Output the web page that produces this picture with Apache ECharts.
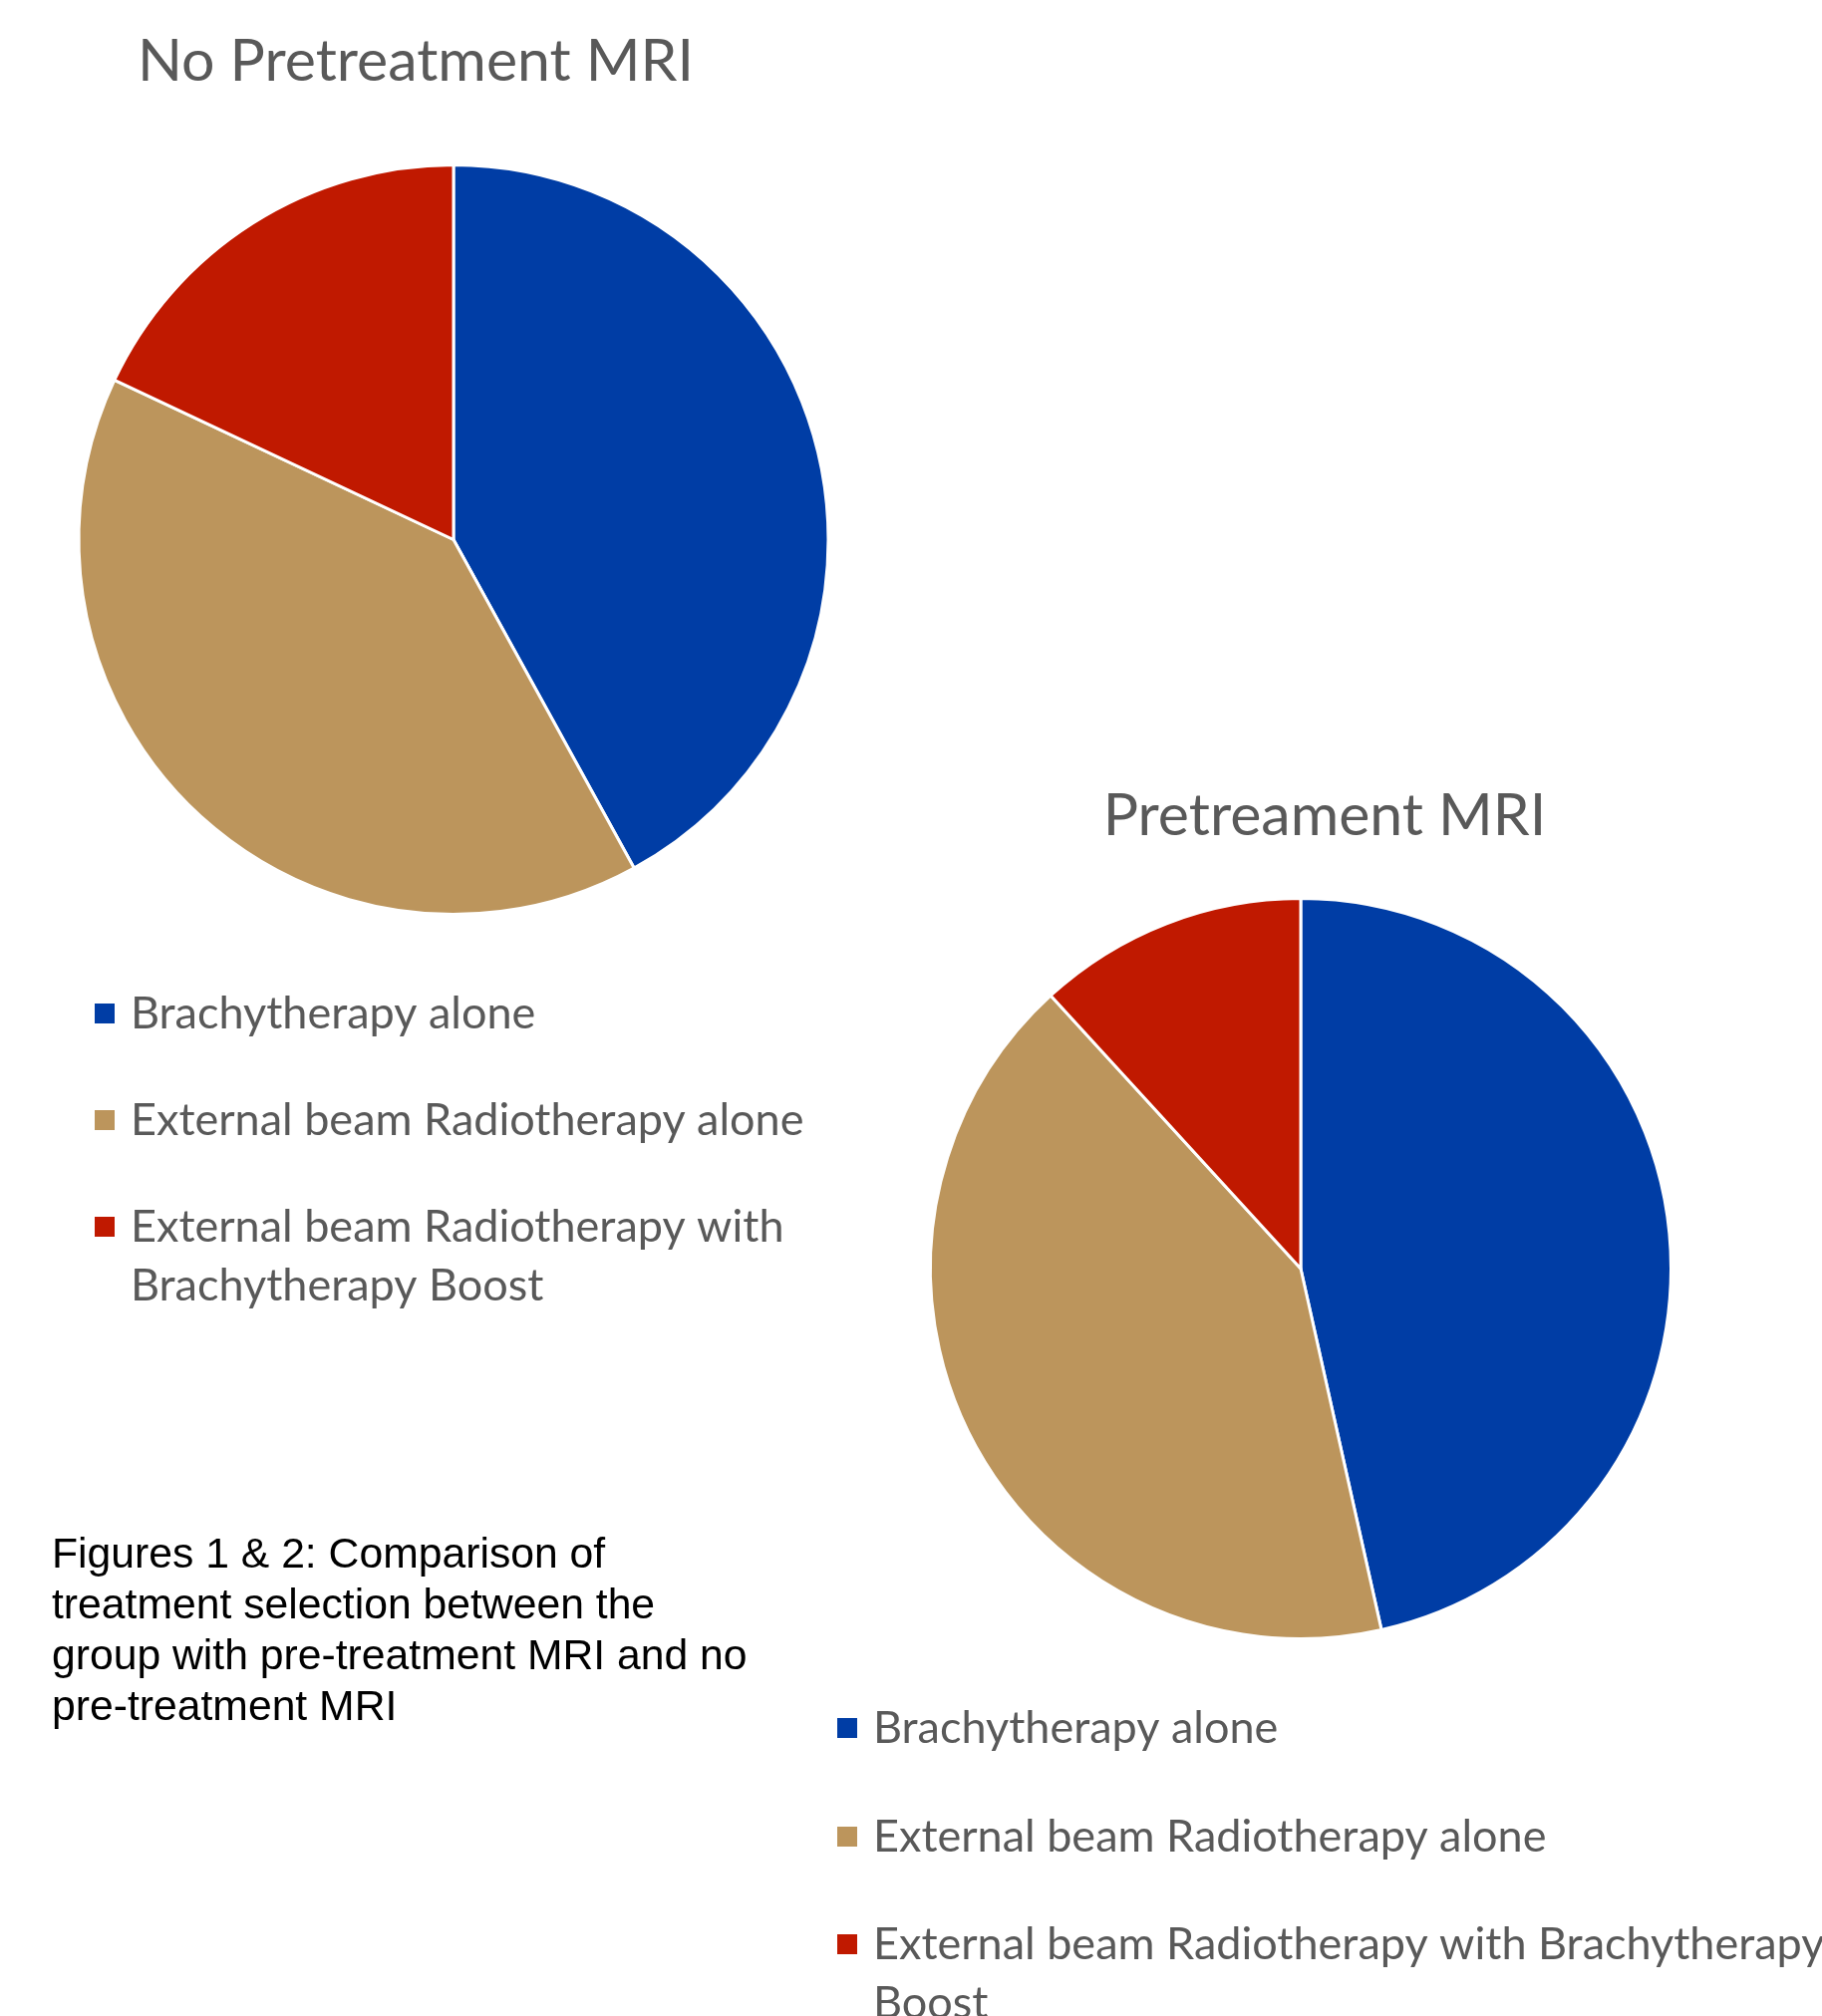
<!DOCTYPE html>
<html>
<head>
<meta charset="utf-8">
<script src="https://cdn.jsdelivr.net/npm/echarts@6/dist/echarts.min.js"></script>
<style>
html,body{margin:0;padding:0;background:#fff;}
#chart{width:1828px;height:2023px;}
</style>
</head>
<body>
<div id="chart"></div>
<script>
// ---- data ----
const categories = [
  'Brachytherapy alone',
  'External beam Radiotherapy alone',
  'External beam Radiotherapy with Brachytherapy Boost'
];
const noMriValues = [42, 40, 18];
const mriValues = [46.5, 41.7, 11.8];
const chartTitles = ['No Pretreatment MRI', 'Pretreament MRI'];
const captionText = 'Figures 1 & 2: Comparison of\ntreatment selection between the\ngroup with pre-treatment MRI and no\npre-treatment MRI';
const colors = ['#003DA5', '#BC955C', '#C01900'];

// legend label text (wrapped as in the picture)
const legendLabels1 = ['Brachytherapy alone', 'External beam Radiotherapy alone', 'External beam Radiotherapy with\nBrachytherapy Boost'];
const legendLabels2 = ['Brachytherapy alone', 'External beam Radiotherapy alone', 'External beam Radiotherapy with Brachytherapy\nBoost'];

const chart = echarts.init(document.getElementById('chart'), null, {renderer: 'canvas'});

const LH = 59;
function makeLegend(idx, labels, left, centerY) {
  const twoLine = labels[idx].indexOf('\n') >= 0;
  return {
    show: true,
    orient: 'vertical',
    left: left,
    top: centerY - (twoLine ? LH * 1.5 : LH / 2),
    padding: 0,
    itemGap: 0,
    itemWidth: 22,
    itemHeight: 22,
    icon: 'rect',
    selectedMode: false,
    data: [categories[idx]],
    // a blank first line keeps the first text line level with the marker
    formatter: function () { return twoLine ? ' \n' + labels[idx] : labels[idx]; },
    textStyle: {
      fontFamily: 'Lato',
      fontSize: 45,
      lineHeight: LH,
      color: '#595959',
      padding: [0, 0, 0, 10]
    }
  };
}

function pieData(vals) {
  return categories.map((c, i) => ({ name: c, value: vals[i], itemStyle: { color: colors[i] } }));
}

const option = {
  animation: false,
  backgroundColor: '#ffffff',
  title: [
    {
      text: chartTitles[0], left: 417, top: 27, textAlign: 'center', padding: 0,
      textStyle: { fontFamily: 'Lato', fontSize: 59, fontWeight: 'normal', color: '#595959', lineHeight: 70 }
    },
    {
      text: chartTitles[1], left: 1329, top: 784, textAlign: 'center', padding: 0,
      textStyle: { fontFamily: 'Lato', fontSize: 59, fontWeight: 'normal', color: '#595959', lineHeight: 70 }
    },
    {
      text: captionText, left: 52, top: 1536, padding: 0,
      textStyle: { fontFamily: 'Liberation Sans', fontSize: 42.7, fontWeight: 'normal', color: '#000000', lineHeight: 51 }
    }
  ],
  legend: [
    makeLegend(0, legendLabels1, 93, 1017),
    makeLegend(1, legendLabels1, 93, 1124),
    makeLegend(2, legendLabels1, 93, 1231),
    makeLegend(0, legendLabels2, 838, 1734),
    makeLegend(1, legendLabels2, 838, 1843),
    makeLegend(2, legendLabels2, 838, 1951)
  ],
  series: [
    {
      type: 'pie',
      center: [455, 541.5],
      radius: 376,
      startAngle: 90,
      clockwise: true,
      label: { show: false },
      labelLine: { show: false },
      emphasis: { disabled: true },
      itemStyle: { borderColor: '#ffffff', borderWidth: 3 },
      data: pieData(noMriValues)
    },
    {
      type: 'pie',
      center: [1305, 1273],
      radius: 371.5,
      startAngle: 90,
      clockwise: true,
      label: { show: false },
      labelLine: { show: false },
      emphasis: { disabled: true },
      itemStyle: { borderColor: '#ffffff', borderWidth: 3 },
      data: pieData(mriValues)
    }
  ]
};
chart.setOption(option);
</script>
</body>
</html>
